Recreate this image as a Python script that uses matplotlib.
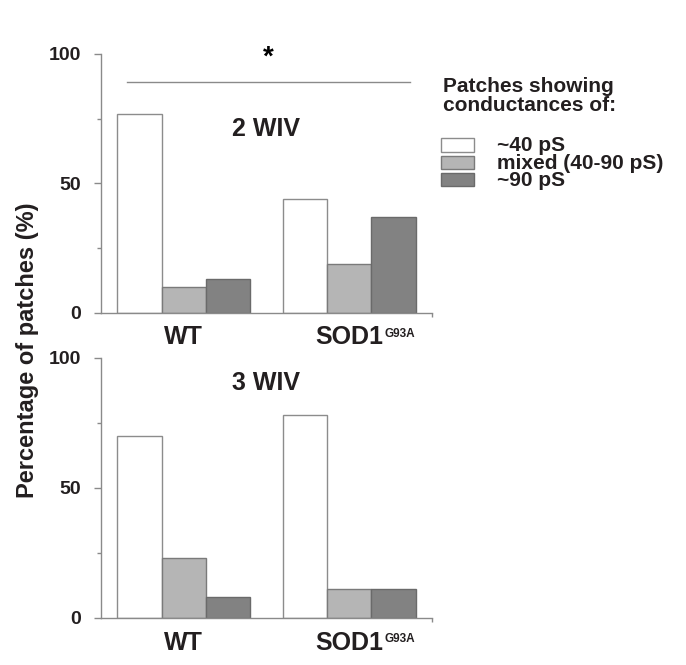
import matplotlib
matplotlib.use("Agg")
import matplotlib.pyplot as plt
from matplotlib.patches import Rectangle
import numpy as np

plt.rcParams['font.family'] = ['Liberation Sans', 'DejaVu Sans']
plt.rcParams['font.weight'] = 'bold'

groups = ['WT', 'SOD1']
group_sup = ['', 'G93A']
series = ['~40 pS', 'mixed (40-90 pS)', '~90 pS']
panel_titles = ['2 WIV', '3 WIV']
wiv2 = {'~40 pS': [77, 44], 'mixed (40-90 pS)': [10, 19], '~90 pS': [13, 37]}
wiv3 = {'~40 pS': [70, 78], 'mixed (40-90 pS)': [23, 11], '~90 pS': [8, 11]}
yticks = [0, 50, 100]
sig_level = 89
sig_mark = '*'
legend_title = 'Patches showing\nconductances of:'
ylabel = 'Percentage of patches (%)'

faces = ['#ffffff', '#b5b5b5', '#828282']
edges = ['#8c8c8c', '#7a7a7a', '#6a6a6a']
axis_col = '#8a8a8a'
txt_col = '#231f20'

W, H = 686, 665
fig = plt.figure(figsize=(W / 100, H / 100), dpi=100)

def fx(px):
    return px / W

def fy(py):
    return 1 - py / H

ax1 = fig.add_axes([fx(101), fy(313), fx(432) - fx(101), fy(54) - fy(313)])
ax2 = fig.add_axes([fx(101), fy(618), fx(432) - fx(101), fy(358) - fy(618)])

x = np.arange(len(groups))
bw = 0.267

for ax, data, title in [(ax1, wiv2, panel_titles[0]), (ax2, wiv3, panel_titles[1])]:
    for i, s in enumerate(series):
        ax.bar(x + (i - 1) * bw, data[s], width=bw, color=faces[i],
               edgecolor=edges[i], linewidth=1.0, zorder=2)
    ax.set_xlim(-0.5, 1.5)
    ax.set_ylim(0, 100)
    for sp in ['top', 'right']:
        ax.spines[sp].set_visible(False)
    for sp in ['left', 'bottom']:
        ax.spines[sp].set_color(axis_col)
        ax.spines[sp].set_linewidth(1.0)
    ax.set_yticks(yticks)
    ax.set_yticklabels([str(t) for t in yticks], fontsize=14, fontweight='bold',
                       color=txt_col)
    ax.set_yticks([25, 75], minor=True)
    ax.tick_params(axis='y', which='major', length=5, width=1, color=axis_col, pad=9.5)
    ax.tick_params(axis='y', which='minor', length=3, width=1, color=axis_col)
    ax.set_xticks([])
    ax.set_xticks([1.5], minor=True)
    ax.tick_params(axis='x', which='minor', length=3, width=1, color=axis_col,
                   direction='out', labelbottom=False)
    # group labels
    for gi, (g, sup) in enumerate(zip(groups, group_sup)):
        t = ax.annotate(g, xy=(x[gi], 0), xycoords=('data', 'axes fraction'),
                        xytext=(0, -9), textcoords='offset points',
                        ha='center', va='top', fontsize=18, fontweight='bold',
                        color=txt_col)
        if sup:
            ax.annotate(sup, xy=(1, 1), xycoords=t, xytext=(1, -2),
                        textcoords='offset points', ha='left', va='top',
                        fontsize=8.5, fontweight='bold', color=txt_col)

ax1.text(0.5, 0.71, panel_titles[0], transform=ax1.transAxes, ha='center',
         va='center', fontsize=18, fontweight='bold', color=txt_col)
ax2.text(0.5, 0.905, panel_titles[1], transform=ax2.transAxes, ha='center',
         va='center', fontsize=18, fontweight='bold', color=txt_col)

# significance line and star
ax1.plot([-0.34, 1.37], [sig_level, sig_level], color=axis_col, lw=1.0,
         clip_on=False)
ax1.text(0.505, 0.985, sig_mark, transform=ax1.transAxes, ha='center',
         va='center', fontsize=20, fontweight='bold', color='black')

# y label
fig.text(fx(28), fy(350), ylabel, rotation=90, ha='center', va='center',
         fontsize=17, fontweight='bold', color=txt_col)

# legend (manual)
fig.text(fx(443), fy(77), legend_title, ha='left', va='top', fontsize=15,
         fontweight='bold', color=txt_col, linespacing=1.0)
rows_y = [145, 162, 179]
for i, s in enumerate(series):
    fig.patches.append(Rectangle((fx(441), fy(rows_y[i] + 6.5)), fx(474) - fx(441),
                                 fy(rows_y[i] - 6.5) - fy(rows_y[i] + 6.5),
                                 transform=fig.transFigure, facecolor=faces[i],
                                 edgecolor=edges[i], linewidth=1.0))
fig.text(fx(497), fy(rows_y[1] + 1), '\n'.join(series), ha='left', va='center',
         fontsize=15, fontweight='bold', color=txt_col, linespacing=0.87)

fig.savefig('out.png', dpi=100, facecolor='white')
